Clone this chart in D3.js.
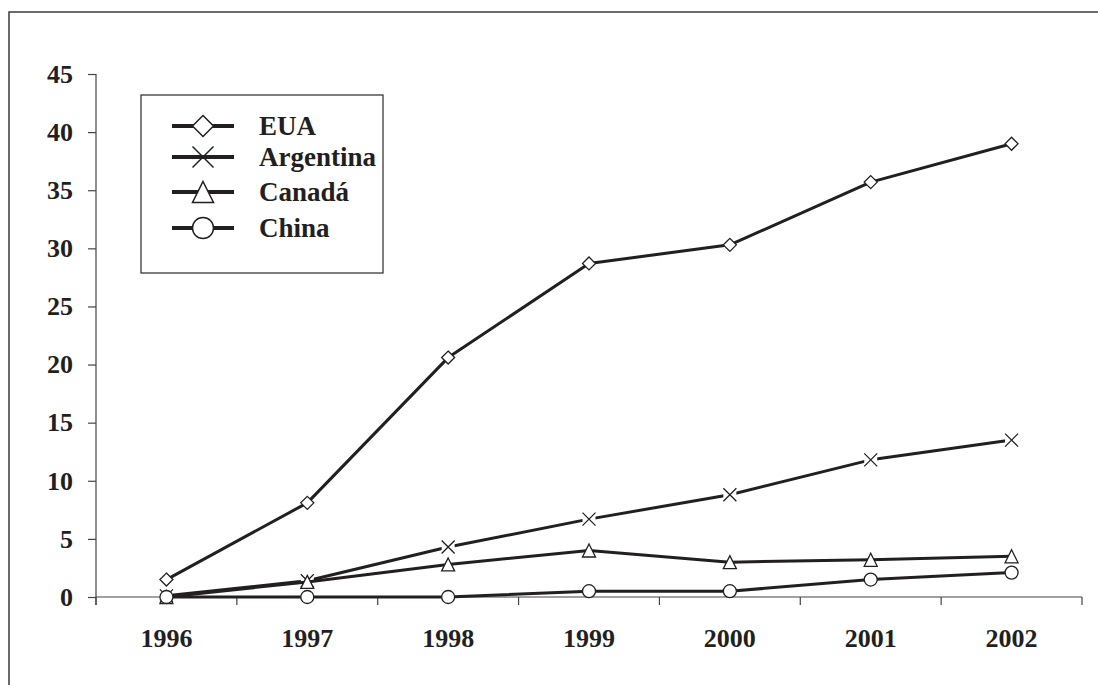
<!DOCTYPE html>
<html>
<head>
<meta charset="utf-8">
<script src="https://cdn.jsdelivr.net/npm/d3@7"></script>
<style>
  html, body { margin: 0; padding: 0; background: #fff; }
  svg { display: block; }
  text { font-family: "Liberation Serif", "Times New Roman", serif; font-weight: bold; fill: #231f20; }
</style>
</head>
<body>
<svg id="chart" width="1098" height="685"></svg>
<script>
const years = ["1996", "1997", "1998", "1999", "2000", "2001", "2002"];
const seriesNames = ["EUA", "Argentina", "Canadá", "China"];
const seriesMarkers = ["diamond", "cross", "triangle", "circle"];
const eua = [1.5, 8.1, 20.6, 28.7, 30.3, 35.7, 39.0];
const argentina = [0.1, 1.4, 4.3, 6.7, 8.8, 11.8, 13.5];
const canada = [0, 1.3, 2.8, 4.0, 3.0, 3.2, 3.5];
const china = [0, 0, 0, 0.5, 0.5, 1.5, 2.1];
const yTicks = [0, 5, 10, 15, 20, 25, 30, 35, 40, 45];

(function () {
const seriesValues = [eua, argentina, canada, china];
const series = seriesNames.map((n, i) => ({
  name: n, marker: seriesMarkers[i],
  points: years.map((yr, j) => ({ year: yr, value: seriesValues[i][j] }))
}));

const ink = "#231f20";
const svg = d3.select("#chart");

// outer frame
svg.append("rect").attr("x", 9).attr("y", 12).attr("width", 1200).attr("height", 800)
  .attr("fill", "none").attr("stroke", "#3a3a3a").attr("stroke-width", 1.5);

const pLeft = 96, pRight = 1082, pTop = 74, pBottom = 597;
const x = d3.scaleBand().domain(years).range([pLeft, pRight]).padding(0);
const y = d3.scaleLinear().domain([0, 45]).range([pBottom, pTop]);
const cx = d => x(d.year) + x.bandwidth() / 2;

// Y axis
const yAxis = svg.append("g").attr("transform", `translate(${pLeft},0)`)
  .call(d3.axisLeft(y).tickValues(yTicks).tickSize(8).tickPadding(15).tickFormat(d3.format("d")));
yAxis.select(".domain").remove();
yAxis.selectAll(".tick line").attr("stroke", "#444").attr("stroke-width", 1.2);
yAxis.selectAll("text").attr("font-size", 26).attr("fill", ink)
  .attr("font-family", "Liberation Serif, Times New Roman, serif").attr("font-weight", "bold");
svg.append("line").attr("x1", pLeft).attr("x2", pLeft).attr("y1", pTop).attr("y2", pBottom + 8)
  .attr("stroke", "#444").attr("stroke-width", 1.2);

// X axis
const xAxis = svg.append("g").attr("transform", `translate(0,${pBottom})`)
  .call(d3.axisBottom(x).tickSize(0).tickPadding(32));
xAxis.select(".domain").remove();
xAxis.selectAll("text").attr("font-size", 26).attr("fill", ink)
  .attr("font-family", "Liberation Serif, Times New Roman, serif").attr("font-weight", "bold");
svg.append("line").attr("x1", pLeft).attr("x2", pRight).attr("y1", pBottom).attr("y2", pBottom)
  .attr("stroke", "#444").attr("stroke-width", 1.2);
const bounds = years.map(yr => x(yr)).concat([x(years[years.length - 1]) + x.bandwidth()]);
svg.append("g").selectAll("line").data(bounds).join("line")
  .attr("x1", d => d).attr("x2", d => d).attr("y1", pBottom).attr("y2", pBottom + 8)
  .attr("stroke", "#444").attr("stroke-width", 1.2);

// marker drawing
function drawMarker(g, type, s, sw, halo) {
  const h = s / 2;
  if (type === "diamond") {
    g.append("path").attr("d", `M0,${-h}L${h},0L0,${h}L${-h},0Z`)
      .attr("fill", "#fff").attr("stroke", ink).attr("stroke-width", sw);
  } else if (type === "cross") {
    if (halo) g.append("rect").attr("x", -h).attr("y", -h).attr("width", s).attr("height", s).attr("fill", "#fff");
    g.append("path").attr("d", `M${-h},${-h}L${h},${h}M${-h},${h}L${h},${-h}`)
      .attr("fill", "none").attr("stroke", ink).attr("stroke-width", sw);
  } else if (type === "triangle") {
    g.append("path").attr("d", `M0,${-h}L${h},${h}L${-h},${h}Z`)
      .attr("fill", "#fff").attr("stroke", ink).attr("stroke-width", sw);
  } else if (type === "circle") {
    g.append("circle").attr("r", h)
      .attr("fill", "#fff").attr("stroke", ink).attr("stroke-width", sw);
  }
}

const line = d3.line().x(cx).y(d => y(d.value));

series.forEach(s => {
  const g = svg.append("g");
  g.append("path").datum(s.points).attr("d", line)
    .attr("fill", "none").attr("stroke", ink).attr("stroke-width", 3).attr("stroke-linejoin", "round");
  s.points.forEach(p => {
    const m = g.append("g").attr("transform", `translate(${cx(p)},${y(p.value)})`);
    drawMarker(m, s.marker, 13, 1.3, true);
  });
});

// legend
const legend = svg.append("g");
legend.append("rect").attr("x", 141).attr("y", 95).attr("width", 242).attr("height", 178)
  .attr("fill", "#fff").attr("stroke", "#3a3a3a").attr("stroke-width", 1.3);
const rowY = [126, 157, 192, 228];
series.forEach((s, i) => {
  const gy = rowY[i];
  legend.append("line").attr("x1", 172).attr("x2", 234).attr("y1", gy).attr("y2", gy)
    .attr("stroke", ink).attr("stroke-width", 4);
  const m = legend.append("g").attr("transform", `translate(203,${gy})`);
  drawMarker(m, s.marker, 21, 1.5, false);
  legend.append("text").attr("x", 259).attr("y", gy + 9).attr("font-size", 27).text(s.name);
});
})();
</script>
</body>
</html>
